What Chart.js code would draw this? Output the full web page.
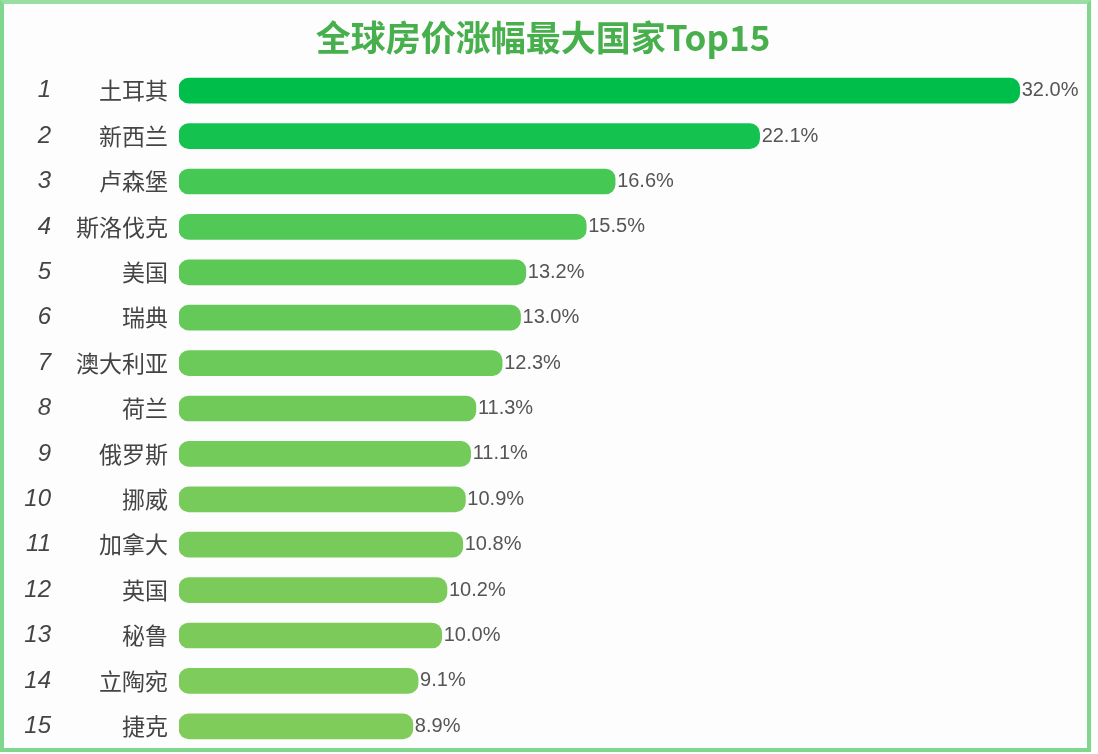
<!DOCTYPE html>
<html>
<head>
<meta charset="utf-8">
<script src="https://cdn.jsdelivr.net/npm/chart.js@4"></script>
<style>
    body { margin: 0; background: #fdfdfd; }
    #wrap { position: relative; width: 1098px; height: 754px; }
    #frame {
        position: absolute; left: 0; top: 0; width: 1083px; height: 744px;
        border: 4px solid #80d68c; border-top-color: #9bdea4;
        pointer-events: none;
    }
</style>
</head>
<body>
<div id="wrap">
    <canvas id="rankChart"></canvas>
    <div id="frame"></div>
</div>
<script>
// Top 15 countries by house price growth (%)
const countries = ['土耳其', '新西兰', '卢森堡', '斯洛伐克', '美国', '瑞典', '澳大利亚', '荷兰',
    '俄罗斯', '挪威', '加拿大', '英国', '秘鲁', '立陶宛', '捷克'];
const growth = [32.0, 22.1, 16.6, 15.5, 13.2, 13.0, 12.3, 11.3, 11.1, 10.9, 10.8, 10.2, 10.0, 9.1, 8.9];
const chartTitle = '全球房价涨幅最大国家Top15';

// bar colours fade from deep green to light green
const barColors = ['#00be4a', '#14c250', '#46c855', '#50c956', '#5cc957', '#64c958', '#6bca59', '#70ca59',
    '#73cb59', '#76cb5a', '#78cb5a', '#7acb5a', '#7ccb5a', '#7ecc5b', '#80cc5b'];

const cjk = '"Noto Sans CJK SC", "Noto Sans", sans-serif';

// title, rank numbers and value labels drawn on the canvas
const extras = {
    id: 'extras',
    afterDatasetsDraw(chart) {
        const ctx = chart.ctx;
        const yScale = chart.scales.y;
        ctx.save();

        ctx.fillStyle = '#47b04d';
        ctx.font = 'bold 35px ' + cjk;
        ctx.textAlign = 'center';
        ctx.textBaseline = 'middle';
        ctx.fillText(chartTitle, 543, 38);

        ctx.fillStyle = '#444';
        ctx.font = 'italic 24px "Liberation Sans Narrow", "Liberation Sans", sans-serif';
        ctx.textAlign = 'right';
        countries.forEach((c, i) => {
            ctx.fillText(String(i + 1), 51, yScale.getPixelForValue(i));
        });

        ctx.fillStyle = '#555';
        ctx.font = '20px "Liberation Sans", sans-serif';
        ctx.textAlign = 'left';
        chart.getDatasetMeta(0).data.forEach((bar, i) => {
            ctx.fillText(growth[i].toFixed(1) + '%', bar.x + 2, bar.y);
        });
        ctx.restore();
    }
};

new Chart(document.getElementById('rankChart'), {
    type: 'bar',
    data: {
        labels: countries,
        datasets: [{
            data: growth,
            backgroundColor: barColors,
            borderRadius: 10,
            borderSkipped: false,
            barThickness: 25
        }]
    },
    options: {
        indexAxis: 'y',
        responsive: true,
        maintainAspectRatio: false,
        animation: false,
        layout: { padding: { top: 68, right: 52, bottom: 5, left: 0 } },
        plugins: {
            legend: { display: false },
            tooltip: { enabled: false }
        },
        scales: {
            x: { display: false, min: 0, max: 33 },
            y: {
                afterFit(scale) {
                    scale.width = 179;
                    scale.paddingTop = 0;
                    scale.paddingBottom = 0;
                },
                grid: { display: false, drawTicks: false },
                border: { display: false },
                ticks: {
                    padding: 11,
                    color: '#444',
                    font: { size: 23, family: cjk }
                }
            }
        }
    },
    plugins: [extras]
});
</script>
</body>
</html>
